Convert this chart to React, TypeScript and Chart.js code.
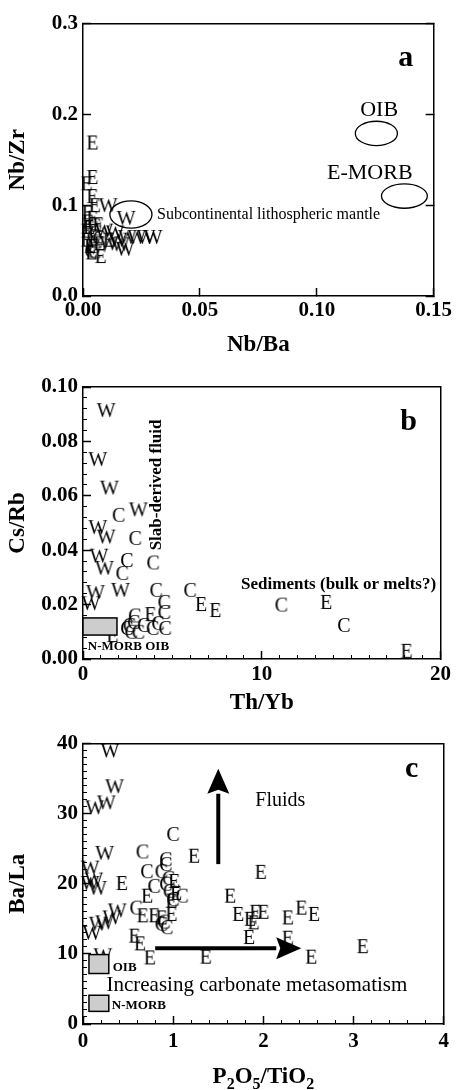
import React, { useEffect, useRef } from "react";
import { Chart, registerables } from "chart.js";
Chart.register(...registerables);

const SERIF = '"Liberation Serif", "Times New Roman", serif';
type Pt = [number, number];

// ---------------- Panel a : Nb/Ba vs Nb/Zr ----------------
const aE: Pt[] = [
  [0.004, 0.169], [0.004, 0.131], [0.0015, 0.124], [0.004, 0.110], [0.005, 0.100],
  [0.002, 0.092], [0.002, 0.082], [0.0015, 0.072], [0.0015, 0.062], [0.003, 0.055],
  [0.0075, 0.044], [0.011, 0.062], [0.0065, 0.079], [0.0025, 0.076], [0.004, 0.086],
  [0.007, 0.058], [0.0035, 0.048],
];
const aW: Pt[] = [
  [0.0108, 0.100], [0.0185, 0.086], [0.019, 0.065], [0.023, 0.065], [0.027, 0.065],
  [0.030, 0.065], [0.018, 0.052], [0.0137, 0.070], [0.015, 0.062], [0.009, 0.072],
  [0.011, 0.058], [0.016, 0.057],
];
const aC: Pt[] = [
  [0.005, 0.078], [0.0055, 0.070], [0.0045, 0.055], [0.0035, 0.050], [0.005, 0.049],
  [0.0055, 0.060], [0.0045, 0.066], [0.007, 0.064],
];

// ---------------- Panel b : Th/Yb vs Cs/Rb ----------------
const bW: Pt[] = [
  [1.3, 0.0915], [0.83, 0.0735], [1.48, 0.063], [3.1, 0.055], [0.83, 0.0485],
  [1.3, 0.045], [0.9, 0.038], [1.2, 0.0335], [0.7, 0.0246], [2.1, 0.0254], [0.45, 0.0205],
];
const bC: Pt[] = [
  [2.0, 0.053], [2.93, 0.0445], [2.46, 0.0364], [3.93, 0.0355], [2.2, 0.0316],
  [4.1, 0.0254], [6.0, 0.0254], [4.55, 0.0210], [4.55, 0.0173], [11.1, 0.020], [14.6, 0.0125],
  [2.84, 0.0136], [3.4, 0.0125], [4.2, 0.0132], [4.6, 0.0114], [2.46, 0.0114],
  [2.7, 0.0100], [3.1, 0.0100], [3.9, 0.0114], [2.9, 0.0160], [2.6, 0.0125],
];
const bE: Pt[] = [
  [6.6, 0.0202], [7.4, 0.018], [13.6, 0.021], [18.1, 0.003], [3.77, 0.0165], [1.64, 0.0088],
];

// ---------------- Panel c : P2O5/TiO2 vs Ba/La ----------------
const cW: Pt[] = [
  [0.30, 39.0], [0.35, 33.9], [0.13, 30.9], [0.26, 31.6], [0.24, 24.4], [0.08, 22.3],
  [0.08, 20.1], [0.16, 19.4], [0.12, 20.6], [0.38, 16.2], [0.32, 15.2], [0.24, 14.5],
  [0.17, 14.3], [0.1, 13.0], [0.22, 9.8],
];
const cC: Pt[] = [
  [0.66, 24.6], [1.0, 27.1], [0.92, 23.5], [0.71, 21.8], [0.87, 21.8], [0.92, 22.8],
  [0.79, 19.7], [0.92, 20.0], [0.96, 19.0], [1.1, 18.3], [1.0, 17.8], [0.59, 16.6],
  [0.87, 14.3], [0.93, 13.8], [0.9, 14.6], [0.95, 20.8],
];
const cE: Pt[] = [
  [0.43, 20.1], [1.23, 24.0], [1.97, 21.7], [0.71, 18.3], [1.63, 18.3], [0.66, 15.5],
  [0.79, 15.5], [0.87, 15.2], [0.98, 15.7], [1.72, 15.7], [1.85, 15.0], [1.91, 16.0],
  [2.0, 16.0], [1.89, 14.5], [2.27, 15.2], [2.42, 16.6], [2.56, 15.7], [1.84, 12.4],
  [2.27, 12.3], [0.57, 12.6], [0.63, 11.5], [0.74, 9.5], [1.36, 9.6], [2.53, 9.6],
  [3.1, 11.1], [1.01, 20.4], [1.03, 18.7], [0.98, 17.6],
];

// ---------------- annotations (data coordinates) ----------------
type Ann =
  | { kind: "ellipse"; cx: number; cy: number; rx: number; ry: number }
  | { kind: "rect"; x0: number; x1: number; y0: number; y1: number }
  | { kind: "text"; x: number; y: number; text: string; size: number; bold?: boolean; align?: CanvasTextAlign; rotate?: boolean }
  | { kind: "arrow"; x0: number; y0: number; x1: number; y1: number };

const aNotes: Ann[] = [
  { kind: "ellipse", cx: 0.0205, cy: 0.0897, rx: 0.009, ry: 0.015 },
  { kind: "ellipse", cx: 0.1255, cy: 0.179, rx: 0.009, ry: 0.0134 },
  { kind: "ellipse", cx: 0.1375, cy: 0.110, rx: 0.0098, ry: 0.0134 },
  { kind: "text", x: 0.1267, y: 0.204, text: "OIB", size: 22 },
  { kind: "text", x: 0.1227, y: 0.1356, text: "E-MORB", size: 22 },
  { kind: "text", x: 0.0317, y: 0.0897, text: "Subcontinental lithospheric mantle", size: 16, align: "left" },
];
const bNotes: Ann[] = [
  { kind: "rect", x0: 0, x1: 1.9, y0: 0.0088, y1: 0.0151 },
  { kind: "text", x: 0.27, y: 0.0044, text: "N-MORB OIB", size: 13, bold: true, align: "left" },
  { kind: "text", x: 4.1, y: 0.064, text: "Slab-derived fluid", size: 17, bold: true, rotate: true },
  { kind: "text", x: 14.3, y: 0.0272, text: "Sediments (bulk or melts?)", size: 17, bold: true },
];
const cNotes: Ann[] = [
  { kind: "rect", x0: 0.066, x1: 0.286, y0: 7.2, y1: 9.9 },
  { kind: "rect", x0: 0.066, x1: 0.286, y0: 1.8, y1: 4.1 },
  { kind: "text", x: 0.33, y: 8.1, text: "OIB", size: 13, bold: true, align: "left" },
  { kind: "text", x: 0.32, y: 2.55, text: "N-MORB", size: 13, bold: true, align: "left" },
  { kind: "text", x: 1.91, y: 31.8, text: "Fluids", size: 20, align: "left" },
  { kind: "text", x: 0.26, y: 5.5, text: "Increasing carbonate metasomatism", size: 21, align: "left" },
  { kind: "arrow", x0: 1.5, y0: 22.8, x1: 1.5, y1: 36.4 },
  { kind: "arrow", x0: 0.8, y0: 10.8, x1: 2.42, y1: 10.8 },
];

type AxisCfg = { min: number; max: number; major: number; minor: number; dec: number; title?: string; titlePad?: number; labelPad?: number };
type Panel = {
  top: number; height: number; padTop: number; padRight: number; xH: number;
  x: AxisCfg; y: AxisCfg; series: { ch: string; pts: Pt[] }[]; notes: Ann[];
  letter: string; letterDx: number; letterDy: number; rightTicks: boolean; subTitle?: boolean;
};

const PANELS: Panel[] = [
  {
    top: 0, height: 360, padTop: 15, padRight: 21, xH: 64,
    x: { min: 0, max: 0.15, major: 0.05, minor: 0.05, dec: 2, title: "Nb/Ba", titlePad: 3.5, labelPad: 12 },
    y: { min: 0, max: 0.3, major: 0.1, minor: 0.1, dec: 1, title: "Nb/Zr" },
    series: [{ ch: "E", pts: aE }, { ch: "C", pts: aC }, { ch: "W", pts: aW }],
    notes: aNotes, letter: "a", letterDx: -28, letterDy: 42, rightTicks: true,
  },
  {
    top: 360, height: 360, padTop: 27, padRight: 15, xH: 61,
    x: { min: 0, max: 20, major: 10, minor: 1, dec: 0, title: "Th/Yb", titlePad: 5.5, labelPad: 13 },
    y: { min: 0, max: 0.1, major: 0.02, minor: 0.004, dec: 2, title: "Cs/Rb" },
    series: [{ ch: "E", pts: bE }, { ch: "C", pts: bC }, { ch: "W", pts: bW }],
    notes: bNotes, letter: "b", letterDx: -32, letterDy: 43, rightTicks: false,
  },
  {
    top: 720, height: 370, padTop: 22, padRight: 17, xH: 66,
    x: { min: 0, max: 4, major: 1, minor: 0.2, dec: 0, labelPad: 15 },
    y: { min: 0, max: 40, major: 10, minor: 1, dec: 0, title: "Ba/La" },
    series: [{ ch: "E", pts: cE }, { ch: "C", pts: cC }, { ch: "W", pts: cW }],
    notes: cNotes, letter: "c", letterDx: -32, letterDy: 33, rightTicks: false, subTitle: true,
  },
];

function letterCanvas(ch: string) {
  const size = 20;
  const c = document.createElement("canvas");
  c.width = 30;
  c.height = 30;
  const g = c.getContext("2d")!;
  g.font = `${size}px ${SERIF}`;
  g.fillStyle = "#000";
  g.textAlign = "center";
  g.textBaseline = "alphabetic";
  g.fillText(ch, 15, 15 + size * 0.33);
  return c;
}

function buildScales(p: Panel) {
  const tickFont = { family: SERIF, size: 21, weight: "bold" as const, lineHeight: 1 };
  const titleFont = { family: SERIF, size: 23, weight: "bold" as const, lineHeight: 1 };
  const border = { display: true, color: "#000", width: 1.5 };
  const noBorder = { display: false };
  return {
    x: {
      type: "linear", position: "bottom", weight: 1, min: p.x.min, max: p.x.max,
      ticks: {
        stepSize: p.x.major, maxTicksLimit: 1000, autoSkip: false, maxRotation: 0, minRotation: 0,
        padding: p.x.labelPad, color: "#000", font: tickFont,
        callback: (v: any) => Number(v).toFixed(p.x.dec),
      },
      grid: { drawOnChartArea: false, drawTicks: true, tickLength: -8, tickColor: "#000", tickWidth: 1.5 },
      border,
      title: p.x.title
        ? { display: true, text: p.x.title, color: "#000", font: titleFont, padding: { top: 0, bottom: p.x.titlePad } }
        : { display: false },
      afterFit: (s: any) => { s.height = p.xH; },
    },
    xMinor: {
      type: "linear", position: "bottom", weight: 0, min: p.x.min, max: p.x.max,
      ticks: { display: false, stepSize: p.x.minor, maxTicksLimit: 1000, autoSkip: false },
      grid: { drawOnChartArea: false, drawTicks: true, tickLength: -4, tickColor: "#000", tickWidth: 1 },
      border: noBorder,
      afterFit: (s: any) => { s.height = 0; },
    },
    xTop: {
      type: "linear", position: "top", min: p.x.min, max: p.x.max,
      ticks: { display: false },
      grid: { drawOnChartArea: false, drawTicks: false },
      border,
      afterFit: (s: any) => { s.height = 0; },
    },
    y: {
      type: "linear", position: "left", weight: 1, min: p.y.min, max: p.y.max,
      ticks: {
        stepSize: p.y.major, maxTicksLimit: 1000, autoSkip: false, padding: 13, color: "#000", font: tickFont,
        callback: (v: any) => Number(v).toFixed(p.y.dec),
      },
      grid: { drawOnChartArea: false, drawTicks: true, tickLength: -8, tickColor: "#000", tickWidth: 1.5 },
      border,
      title: { display: true, text: p.y.title, color: "#000", font: titleFont, padding: { top: 6.5, bottom: 0 } },
      afterFit: (s: any) => { s.width = 83; },
    },
    yMinor: {
      type: "linear", position: "left", weight: 0, min: p.y.min, max: p.y.max,
      ticks: { display: false, stepSize: p.y.minor, maxTicksLimit: 1000, autoSkip: false },
      grid: { drawOnChartArea: false, drawTicks: true, tickLength: -4, tickColor: "#000", tickWidth: 1 },
      border: noBorder,
      afterFit: (s: any) => { s.width = 0; },
    },
    yRight: {
      type: "linear", position: "right", min: p.y.min, max: p.y.max,
      ticks: { display: false, stepSize: p.y.major, maxTicksLimit: 1000 },
      grid: { drawOnChartArea: false, drawTicks: p.rightTicks, tickLength: -8, tickColor: "#000", tickWidth: 1.5 },
      border,
      afterFit: (s: any) => { s.width = 0; },
    },
  };
}

function notesPlugin(p: Panel) {
  return {
    id: "notes" + p.letter,
    afterDatasetsDraw(chart: any) {
      const { ctx, chartArea } = chart;
      const xs = chart.scales.x;
      const ys = chart.scales.y;
      const X = (v: number) => xs.getPixelForValue(v);
      const Y = (v: number) => ys.getPixelForValue(v);
      ctx.save();
      ctx.fillStyle = "#000";
      ctx.strokeStyle = "#000";
      for (const n of p.notes) {
        if (n.kind === "ellipse") {
          ctx.beginPath();
          ctx.lineWidth = 1.3;
          ctx.ellipse(X(n.cx), Y(n.cy), Math.abs(X(n.cx + n.rx) - X(n.cx)), Math.abs(Y(n.cy + n.ry) - Y(n.cy)), 0, 0, Math.PI * 2);
          ctx.stroke();
        } else if (n.kind === "rect") {
          const x0 = X(n.x0), x1 = X(n.x1), y0 = Y(n.y1), y1 = Y(n.y0);
          ctx.fillStyle = "#cdcdcd";
          ctx.fillRect(x0, y0, x1 - x0, y1 - y0);
          ctx.lineWidth = 1.5;
          ctx.strokeRect(x0, y0, x1 - x0, y1 - y0);
          ctx.fillStyle = "#000";
        } else if (n.kind === "text") {
          ctx.font = `${n.bold ? "bold " : ""}${n.size}px ${SERIF}`;
          ctx.textAlign = n.align || "center";
          ctx.textBaseline = "middle";
          if (n.rotate) {
            ctx.save();
            ctx.translate(X(n.x), Y(n.y));
            ctx.rotate(-Math.PI / 2);
            ctx.fillText(n.text, 0, 0);
            ctx.restore();
          } else {
            ctx.fillText(n.text, X(n.x), Y(n.y));
          }
        } else if (n.kind === "arrow") {
          const x0 = X(n.x0), y0 = Y(n.y0), x1 = X(n.x1), y1 = Y(n.y1);
          const ang = Math.atan2(y1 - y0, x1 - x0);
          const head = 25, half = 11;
          const bx = x1 - head * Math.cos(ang), by = y1 - head * Math.sin(ang);
          ctx.lineWidth = 4;
          ctx.beginPath();
          ctx.moveTo(x0, y0);
          ctx.lineTo(bx, by);
          ctx.stroke();
          ctx.beginPath();
          ctx.moveTo(x1, y1);
          ctx.lineTo(bx - half * Math.sin(ang), by + half * Math.cos(ang));
          ctx.lineTo(bx + 4 * Math.cos(ang), by + 4 * Math.sin(ang));
          ctx.lineTo(bx + half * Math.sin(ang), by - half * Math.cos(ang));
          ctx.closePath();
          ctx.fill();
        }
      }
      // panel letter
      ctx.font = `bold 30px ${SERIF}`;
      ctx.textAlign = "center";
      ctx.textBaseline = "alphabetic";
      ctx.fillText(p.letter, chartArea.right + p.letterDx, chartArea.top + p.letterDy);
      // subscripted x title for panel c
      if (p.subTitle) {
        const parts: [string, boolean][] = [["P", false], ["2", true], ["O", false], ["5", true], ["/TiO", false], ["2", true]];
        const big = `bold 23px ${SERIF}`, small = `bold 16px ${SERIF}`;
        let w = 0;
        for (const [t, s] of parts) { ctx.font = s ? small : big; w += ctx.measureText(t).width; }
        let cx = (chartArea.left + chartArea.right) / 2 - w / 2;
        const base = chart.height - 15 + 8;
        ctx.textAlign = "left";
        for (const [t, s] of parts) {
          ctx.font = s ? small : big;
          ctx.fillText(t, cx, s ? base + 6 : base);
          cx += ctx.measureText(t).width;
        }
      }
      ctx.restore();
    },
  };
}

function buildConfig(p: Panel): any {
  return {
    type: "scatter",
    data: {
      datasets: p.series.map((s) => ({
        label: s.ch,
        data: s.pts.map(([x, y]) => ({ x, y })),
        pointStyle: letterCanvas(s.ch),
        pointRadius: 10,
        clip: false,
      })),
    },
    options: {
      animation: false,
      responsive: false,
      devicePixelRatio: 1,
      events: [],
      layout: { padding: { top: p.padTop, right: p.padRight, left: 0, bottom: 0 } },
      plugins: { legend: { display: false }, tooltip: { enabled: false } },
      scales: buildScales(p),
    },
    plugins: [notesPlugin(p)],
  };
}

export default function App() {
  const r0 = useRef<HTMLCanvasElement>(null);
  const r1 = useRef<HTMLCanvasElement>(null);
  const r2 = useRef<HTMLCanvasElement>(null);
  const refs = [r0, r1, r2];
  useEffect(() => {
    document.body.style.margin = "0";
    const charts = PANELS.map((p, i) => new Chart(refs[i].current!, buildConfig(p)));
    return () => charts.forEach((c) => c.destroy());
  }, []);
  return (
    <div style={{ position: "relative", width: 464, height: 1090, background: "#fff" }}>
      {PANELS.map((p, i) => (
        <canvas
          key={i}
          ref={refs[i]}
          width={464}
          height={p.height}
          style={{ position: "absolute", left: 0, top: p.top, width: 464, height: p.height }}
        />
      ))}
    </div>
  );
}
